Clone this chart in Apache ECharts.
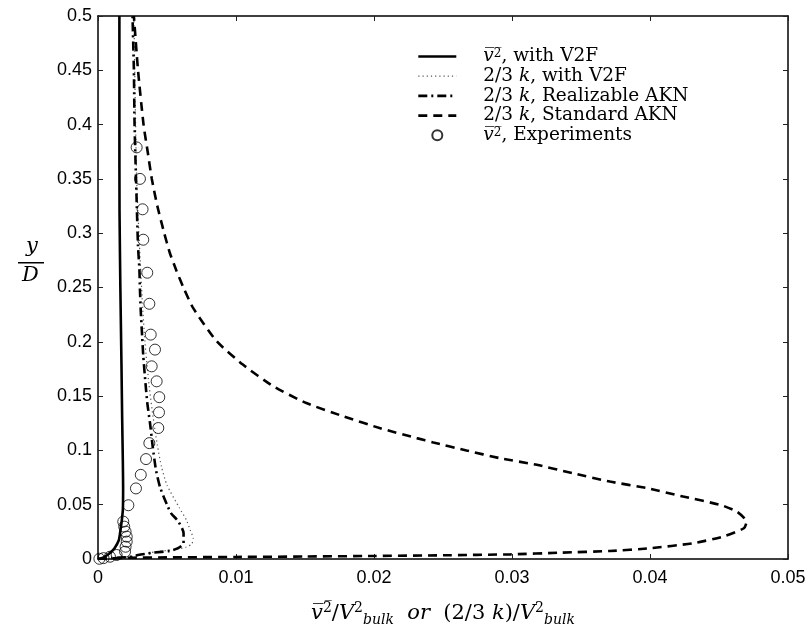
<!DOCTYPE html>
<html>
<head>
<meta charset="utf-8">
<script src="https://cdn.jsdelivr.net/npm/echarts@6/dist/echarts.min.js"></script>
<style>
  html, body { margin: 0; padding: 0; background: #fff; }
  #chart { width: 810px; height: 639px; }
</style>
</head>
<body>
<div id="chart"></div>
<script>
// Axis ranges and ticks
const xTicks = [0, 0.01, 0.02, 0.03, 0.04, 0.05];
const yTicks = [0, 0.05, 0.1, 0.15, 0.2, 0.25, 0.3, 0.35, 0.4, 0.45, 0.5];

// Legend entries
const seriesNames = [
  'v2 V2F',
  '2/3k V2F',
  '2/3k Realizable AKN',
  '2/3k Standard AKN',
  'v2 Experiments'
];

// [normalised stress, y/D] — v2 from the V2F model
const v2V2F = [
  [0, 0], [0.0003, 0.001], [0.0006, 0.003], [0.0009, 0.006], [0.0012, 0.010],
  [0.0015, 0.017], [0.0016, 0.024], [0.0017, 0.033], [0.0018, 0.045],
  [0.00182, 0.065], [0.0018, 0.09], [0.00175, 0.13], [0.0017, 0.18],
  [0.00162, 0.25], [0.00156, 0.32], [0.00155, 0.40], [0.00155, 0.50]
];

// 2/3 k from the V2F model
const kV2F = [
  [0, 0], [0.001, 0.0006], [0.0021, 0.0016], [0.003, 0.0037], [0.0042, 0.0067],
  [0.0055, 0.0085], [0.0064, 0.011], [0.0068, 0.014], [0.0069, 0.019],
  [0.0067, 0.026], [0.0064, 0.036], [0.0059, 0.047], [0.005, 0.068],
  [0.0046, 0.085], [0.0043, 0.105], [0.0040, 0.13], [0.0037, 0.16],
  [0.0034, 0.20], [0.0032, 0.24], [0.0030, 0.29], [0.0028, 0.35],
  [0.0027, 0.42], [0.0026, 0.50]
];

// 2/3 k from the realizable AKN model
const kRealAKN = [
  [0, 0], [0.001, 0.0008], [0.0023, 0.002], [0.0029, 0.0037], [0.004, 0.0058],
  [0.0052, 0.0075], [0.0058, 0.010], [0.0062, 0.0145], [0.0062, 0.024],
  [0.0058, 0.035], [0.0053, 0.042], [0.005, 0.050], [0.0045, 0.066],
  [0.0042, 0.082], [0.00396, 0.104], [0.00377, 0.125], [0.00357, 0.144],
  [0.0034, 0.168], [0.00328, 0.187], [0.0032, 0.205], [0.0031, 0.228],
  [0.00304, 0.248], [0.0030, 0.267], [0.0029, 0.288], [0.0028, 0.33],
  [0.00265, 0.40], [0.0026, 0.45], [0.0025, 0.50]
];

// 2/3 k from the standard AKN model
const kStdAKN = [
  [0, 0], [0.0015, 0.0008], [0.0025, 0.0012], [0.005, 0.0015], [0.01, 0.0019],
  [0.015, 0.0023], [0.02, 0.0028], [0.025, 0.0034], [0.0299, 0.0043],
  [0.0335, 0.0058], [0.0371, 0.0074], [0.040, 0.0099], [0.0431, 0.0145],
  [0.0453, 0.0206], [0.0468, 0.0283], [0.0470, 0.0344], [0.0463, 0.0436],
  [0.0451, 0.0498], [0.0424, 0.0575], [0.0398, 0.0652], [0.0371, 0.0713],
  [0.0344, 0.079], [0.0318, 0.0867], [0.0291, 0.0929], [0.0267, 0.0999],
  [0.0243, 0.1073], [0.0231, 0.1113], [0.0204, 0.1206], [0.0178, 0.1313],
  [0.0151, 0.1436], [0.0127, 0.159], [0.0105, 0.179], [0.0086, 0.2005],
  [0.0069, 0.231], [0.0062, 0.2497], [0.0057, 0.265], [0.0052, 0.282],
  [0.0048, 0.300], [0.0043, 0.325], [0.0039, 0.350], [0.0036, 0.375],
  [0.0033, 0.400], [0.0029, 0.450], [0.0026, 0.500]
];

// Measured v2
const v2Exp = [
  [0.0028, 0.379], [0.00304, 0.35], [0.00323, 0.322], [0.00328, 0.294],
  [0.00357, 0.2636], [0.00372, 0.235], [0.00382, 0.2066], [0.00413, 0.1928],
  [0.00389, 0.1774], [0.00425, 0.1636], [0.00444, 0.149], [0.00442, 0.135],
  [0.00437, 0.1206], [0.00372, 0.1067], [0.00348, 0.092], [0.0031, 0.0775],
  [0.00275, 0.065], [0.0022, 0.0495], [0.00183, 0.0344], [0.0019, 0.0298],
  [0.0020, 0.0252], [0.00208, 0.0206], [0.00208, 0.016], [0.0020, 0.0113],
  [0.00196, 0.0067], [0.00135, 0.0037], [0.00087, 0.0021], [0.0004, 0.0008],
  [0.0001, 0.0002]
];

const serif = 'DejaVu Serif';
const sans = 'Liberation Sans';
const OL = '\u0305'; // combining overline

const legendText = {
  'v2 V2F': '{it|v' + OL + '}{sup|2' + OL + '}{rm|, with V2F}',
  '2/3k V2F': '{rm|2/3 }{it|k}{rm|, with V2F}',
  '2/3k Realizable AKN': '{rm|2/3 }{it|k}{rm|, Realizable AKN}',
  '2/3k Standard AKN': '{rm|2/3 }{it|k}{rm|, Standard AKN}',
  'v2 Experiments': '{it|v' + OL + '}{sup|2' + OL + '}{rm|, Experiments}'
};

// Line entries show only their stroke in the legend; the experiment entry keeps its circle
const legendLineWidths = [2.6, 1.2, 2.6, 2.6];
const legendData = seriesNames.map(function (n, i) {
  return i < 4
    ? { name: n, itemStyle: { opacity: 0 }, lineStyle: { width: legendLineWidths[i] } }
    : { name: n };
});

const chart = echarts.init(document.getElementById('chart'), null, { renderer: 'canvas' });

const tickStyle = { inside: true, length: 5, lineStyle: { color: '#222', width: 1 } };
const lineAx = { show: true, onZero: false, lineStyle: { color: '#000', width: 1.5 } };

chart.setOption({
  animation: false,
  backgroundColor: '#fff',
  grid: { left: 98, right: 22, top: 16, bottom: 80, containLabel: false },
  legend: {
    orient: 'vertical',
    left: 417,
    top: 47,
    padding: 0,
    itemWidth: 38,
    itemHeight: 10,
    itemGap: 0.7,
    data: legendData,
    formatter: function (name) { return legendText[name]; },
    textStyle: {
      padding: [0, 0, 0, 22],
      rich: {
        rm: { fontFamily: serif, fontSize: 18.5, color: '#000', lineHeight: 17 },
        it: { fontFamily: serif, fontStyle: 'italic', fontSize: 18.5, color: '#000', lineHeight: 17 },
        sup: { fontFamily: serif, fontSize: 12, color: '#000', lineHeight: 10, verticalAlign: 'top' }
      }
    }
  },
  xAxis: [{
    type: 'value', min: 0, max: 0.05, interval: 0.01,
    position: 'bottom',
    axisLine: lineAx,
    axisTick: tickStyle,
    splitLine: { show: false },
    axisLabel: {
      fontFamily: sans, fontSize: 18, color: '#000', margin: 10,
      formatter: function (v) { return String(+v.toFixed(2)); }
    },
    name: '{it|v' + OL + '}{sup|2' + OL + '}{rm|/}{it|V}{sup|2}{sub|bulk}{rm|  }{it|or}{rm|  (2/3 }{it|k}{rm|)/}{it|V}{sup|2}{sub|bulk}',
    nameLocation: 'middle',
    nameGap: 42,
    nameTextStyle: {
      rich: {
        rm: { fontFamily: serif, fontSize: 21, color: '#000', lineHeight: 26 },
        it: { fontFamily: serif, fontStyle: 'italic', fontSize: 21, color: '#000', lineHeight: 26 },
        sup: { fontFamily: serif, fontSize: 14, color: '#000', lineHeight: 14, verticalAlign: 'top' },
        sub: { fontFamily: serif, fontStyle: 'italic', fontSize: 14, color: '#000', lineHeight: 14, verticalAlign: 'bottom' }
      }
    }
  }, {
    type: 'value', min: 0, max: 0.05, interval: 0.01,
    position: 'top',
    axisLine: lineAx,
    axisTick: tickStyle,
    axisLabel: { show: false },
    splitLine: { show: false }
  }],
  yAxis: [{
    type: 'value', min: 0, max: 0.5, interval: 0.05,
    position: 'left',
    axisLine: lineAx,
    axisTick: tickStyle,
    splitLine: { show: false },
    axisLabel: {
      fontFamily: sans, fontSize: 18, color: '#000', margin: 6,
      formatter: function (v) { return String(+v.toFixed(2)); }
    }
  }, {
    type: 'value', min: 0, max: 0.5, interval: 0.05,
    position: 'right',
    axisLine: lineAx,
    axisTick: tickStyle,
    axisLabel: { show: false },
    splitLine: { show: false }
  }],
  graphic: [{
    type: 'group',
    left: 18,
    top: 236,
    children: [
      { type: 'text', left: 8, top: 0, style: { text: 'y', font: 'italic 21px "DejaVu Serif"', fill: '#000' } },
      { type: 'rect', left: 0, top: 26, shape: { width: 26, height: 1.5 }, style: { fill: '#000' } },
      { type: 'text', left: 4, top: 29, style: { text: 'D', font: 'italic 21px "DejaVu Serif"', fill: '#000' } }
    ]
  }],
  series: [{
    name: seriesNames[0], type: 'line', data: v2V2F, symbol: 'none', smooth: 0.2,
    lineStyle: { color: '#000', width: 2.6, type: 'solid' }, itemStyle: { color: '#000' }, z: 5
  }, {
    name: seriesNames[1], type: 'line', data: kV2F, symbol: 'none', smooth: 0.2,
    lineStyle: { color: '#555', width: 1.2, type: [1.2, 3] }, itemStyle: { color: '#555' }, z: 3
  }, {
    name: seriesNames[2], type: 'line', data: kRealAKN, symbol: 'none', smooth: 0.2,
    lineStyle: { color: '#000', width: 2.6, type: [9, 4, 2, 4] }, itemStyle: { color: '#000' }, z: 4
  }, {
    name: seriesNames[3], type: 'line', data: kStdAKN, symbol: 'none', smooth: 0.2,
    lineStyle: { color: '#000', width: 2.6, type: [9, 6] }, itemStyle: { color: '#000' }, z: 4
  }, {
    name: seriesNames[4], type: 'scatter', data: v2Exp, symbol: 'circle', symbolSize: 11,
    itemStyle: { color: 'rgba(255,255,255,0)', borderColor: '#000', borderWidth: 1 }, z: 6
  }]
});
</script>
</body>
</html>
